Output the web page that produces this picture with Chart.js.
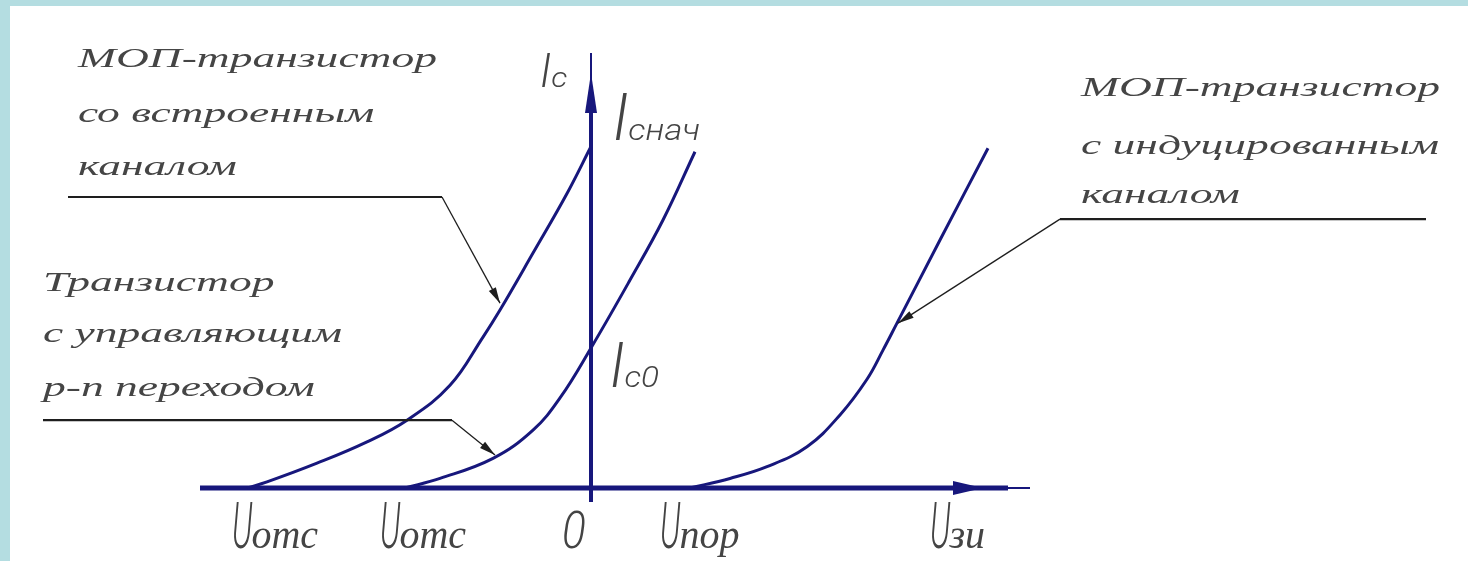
<!DOCTYPE html>
<html>
<head>
<meta charset="utf-8">
<script src="https://cdn.jsdelivr.net/npm/chart.js"></script>
<style>
  html, body { margin: 0; padding: 0; background: #fff; }
  #wrap { position: relative; width: 1468px; height: 561px; overflow: hidden; }
  canvas { display: block; }
  .note {
    position: absolute;
    font: italic 28px "Liberation Serif", serif;
    line-height: 28px;
    color: #454545;
    white-space: nowrap;
    transform-origin: 0 0;
  }
</style>
</head>
<body>
<div id="wrap">
  <canvas id="chart" width="1468" height="561"></canvas>
</div>
<script>
// кривые (Uзи, Ic) в условных единицах
const builtInX = [-3.44, -3.24, -2.74, -2.24, -1.84, -1.41, -1.08, -0.91, -0.58, -0.24, 0];
const builtInY = [0, 0.14, 0.57, 1.06, 1.56, 2.36, 3.47, 4.09, 5.40, 6.77, 7.85];

const jfetX = [-1.86, -1.51, -0.98, -0.58, -0.31, 0, 0.39, 0.72, 1.04];
const jfetY = [0, 0.22, 0.68, 1.33, 2.07, 3.22, 4.78, 6.16, 7.73];

const inducedX = [0.99, 1.39, 1.76, 2.16, 2.49, 2.76, 2.92, 3.06, 3.49, 3.97];
const inducedY = [0, 0.22, 0.49, 0.95, 1.68, 2.50, 3.17, 3.79, 5.70, 7.81];

// подписи оси Uзи (левый край подписи)
const xTickValues = [-3.59, -2.11, -0.29, 0.69, 3.39];
const xTickMain = ['U', 'U', '0', 'U', 'U'];
const xTickSub = ['отс', 'отс', '', 'пор', 'зи'];

// подписи оси Ic
const yTickX = [-0.51, 0.22, 0.19];
const yTickValues = [9.22, 8.0, 2.32];
const yTickSub = ['с', 'снач', 'с0'];

// надписи-пояснения
const noteLeftTop = ['МОП-транзистор', 'со встроенным', 'каналом'];
const noteLeftBottom = ['Транзистор', 'с управляющим', 'p-n переходом'];
const noteRight = ['МОП-транзистор', 'с индуцированным', 'каналом'];

const NAVY = '#17177c';

function toPoints(xs, ys) {
    return xs.map((x, i) => ({ x: x, y: ys[i] }));
}

function arrowHead(ctx, fromX, fromY, tipX, tipY, len, half) {
    const a = Math.atan2(tipY - fromY, tipX - fromX);
    ctx.beginPath();
    ctx.moveTo(tipX, tipY);
    ctx.lineTo(tipX - len * Math.cos(a) + half * Math.sin(a), tipY - len * Math.sin(a) - half * Math.cos(a));
    ctx.lineTo(tipX - len * Math.cos(a) - half * Math.sin(a), tipY - len * Math.sin(a) + half * Math.cos(a));
    ctx.closePath();
    ctx.fill();
}

function drawScaled(ctx, text, x, y, font, sx, color) {
    ctx.save();
    ctx.font = font;
    ctx.fillStyle = color;
    ctx.translate(x, y);
    ctx.scale(sx, 1);
    ctx.fillText(text, 0, 0);
    const w = ctx.measureText(text).width * sx;
    ctx.restore();
    return w;
}

const diagramPlugin = {
    id: 'diagram',
    beforeDraw(chart) {
        const ctx = chart.ctx;
        ctx.save();
        ctx.fillStyle = '#ffffff';
        ctx.fillRect(0, 0, chart.width, chart.height);
        ctx.fillStyle = '#b4dde1';
        ctx.fillRect(0, 0, 10, chart.height);
        ctx.fillRect(0, 0, chart.width, 6);
        ctx.restore();
    },
    beforeDatasetsDraw(chart) {
        const ctx = chart.ctx;
        const xs = chart.scales.x, ys = chart.scales.y;
        const x0 = xs.getPixelForValue(0), y0 = ys.getPixelForValue(0);
        const left = chart.chartArea.left, right = chart.chartArea.right, top = chart.chartArea.top;
        ctx.save();
        ctx.strokeStyle = NAVY;
        ctx.fillStyle = NAVY;
        // ось Uзи
        ctx.lineWidth = 5;
        ctx.beginPath(); ctx.moveTo(left, y0); ctx.lineTo(right - 22, y0); ctx.stroke();
        ctx.lineWidth = 2;
        ctx.beginPath(); ctx.moveTo(right - 24, y0); ctx.lineTo(right, y0); ctx.stroke();
        arrowHead(ctx, right - 100, y0, right - 47, y0, 30, 7);
        // ось Ic
        ctx.lineWidth = 4;
        ctx.beginPath(); ctx.moveTo(x0, y0 + 14); ctx.lineTo(x0, top + 60); ctx.stroke();
        ctx.lineWidth = 2;
        ctx.beginPath(); ctx.moveTo(x0, top + 62); ctx.lineTo(x0, top); ctx.stroke();
        arrowHead(ctx, x0, top + 100, x0, top + 20, 40, 6);
        ctx.restore();
    },
    afterDatasetsDraw(chart) {
        const ctx = chart.ctx;
        const xs = chart.scales.x, ys = chart.scales.y;
        const px = v => xs.getPixelForValue(v);
        const py = v => ys.getPixelForValue(v);

        // выноски
        const leaders = [
            [[-5.23, 6.69], [-1.49, 6.69], [-0.91, 4.25]],
            [[-5.48, 1.56], [-1.39, 1.56], [-0.96, 0.76]],
            [[8.35, 6.18], [4.69, 6.18], [3.07, 3.79]]
        ];
        ctx.save();
        ctx.strokeStyle = '#1e1e1e';
        ctx.fillStyle = '#1e1e1e';
        leaders.forEach(l => {
            const p = l.map(q => [px(q[0]), py(q[1])]);
            ctx.lineWidth = 2.2;
            ctx.beginPath(); ctx.moveTo(p[0][0], p[0][1]); ctx.lineTo(p[1][0], p[1][1]); ctx.stroke();
            ctx.lineWidth = 1.3;
            ctx.beginPath(); ctx.moveTo(p[1][0], p[1][1]); ctx.lineTo(p[2][0], p[2][1]); ctx.stroke();
            arrowHead(ctx, p[1][0], p[1][1], p[2][0], p[2][1], 16, 4);
        });
        ctx.restore();

        // подписи осей
        const mainFont = 'italic 300 64px Roboto, "Liberation Sans", sans-serif';
        const subSerif = 'italic 40px "Liberation Serif", serif';
        xTickValues.forEach((v, i) => {
            const x = px(v), base = py(0) + 60;
            if (xTickMain[i] === '0') {
                drawScaled(ctx, '0', x, base, 'italic 300 52px Roboto, "Liberation Sans", sans-serif', 0.85, '#444');
                return;
            }
            const w = drawScaled(ctx, xTickMain[i], x, base, mainFont, 0.5, '#444');
            drawScaled(ctx, xTickSub[i], x + w - 1, base, subSerif, 1.0, '#444');
        });
        const iSizes = [48, 66, 62];
        const subSizes = [28, 30, 29];
        yTickValues.forEach((v, i) => {
            const x = px(yTickX[i]), base = py(v);
            const w = drawScaled(ctx, 'I', x, base, 'italic 300 ' + iSizes[i] + 'px Roboto, "Liberation Sans", sans-serif', 0.9, '#444');
            drawScaled(ctx, yTickSub[i], x + w, base, 'italic 300 ' + subSizes[i] + 'px Roboto, "Liberation Sans", sans-serif', 1.15, '#444');
        });
    }
};

function makeSet(label, xs, ys) {
    return {
        label: label,
        data: toPoints(xs, ys),
        showLine: true,
        borderColor: NAVY,
        borderWidth: 3,
        pointRadius: 0,
        fill: false,
        tension: 0.4,
        clip: false
    };
}

// текстовые блоки: x левого края, базовые линии строк
function addNotes(lines, x, baselines, sx) {
    const wrap = document.getElementById('wrap');
    lines.forEach((t, i) => {
        const d = document.createElement('div');
        d.className = 'note';
        d.textContent = t;
        d.style.left = x + 'px';
        d.style.top = (baselines[i] - 24) + 'px';
        d.style.transform = 'scaleX(' + sx + ')';
        wrap.appendChild(d);
    });
}

document.addEventListener('DOMContentLoaded', function () {
    const ctx = document.getElementById('chart').getContext('2d');
    new Chart(ctx, {
        type: 'scatter',
        data: {
            datasets: [
                makeSet('МОП-транзистор со встроенным каналом', builtInX, builtInY),
                makeSet('Транзистор с управляющим p-n переходом', jfetX, jfetY),
                makeSet('МОП-транзистор с индуцированным каналом', inducedX, inducedY)
            ]
        },
        options: {
            responsive: false,
            animation: false,
            layout: { padding: { left: 200, right: 438, top: 53, bottom: 73 } },
            scales: {
                x: { type: 'linear', min: -3.91, max: 4.39, display: false },
                y: { type: 'linear', min: 0, max: 10, display: false }
            },
            plugins: {
                legend: { display: false },
                tooltip: { enabled: false }
            }
        },
        plugins: [diagramPlugin]
    });

    // растяжение по ширине подбирается по первой строке
    ctx.font = 'italic 28px "Liberation Serif", serif';
    const sx = 359 / ctx.measureText('МОП-транзистор').width;
    addNotes(noteLeftTop, 78, [68, 123, 176], sx);
    addNotes(noteLeftBottom, 43, [292, 343, 397], sx);
    addNotes(noteRight, 1081, [97, 155, 204], sx);
});
</script>
</body>
</html>
